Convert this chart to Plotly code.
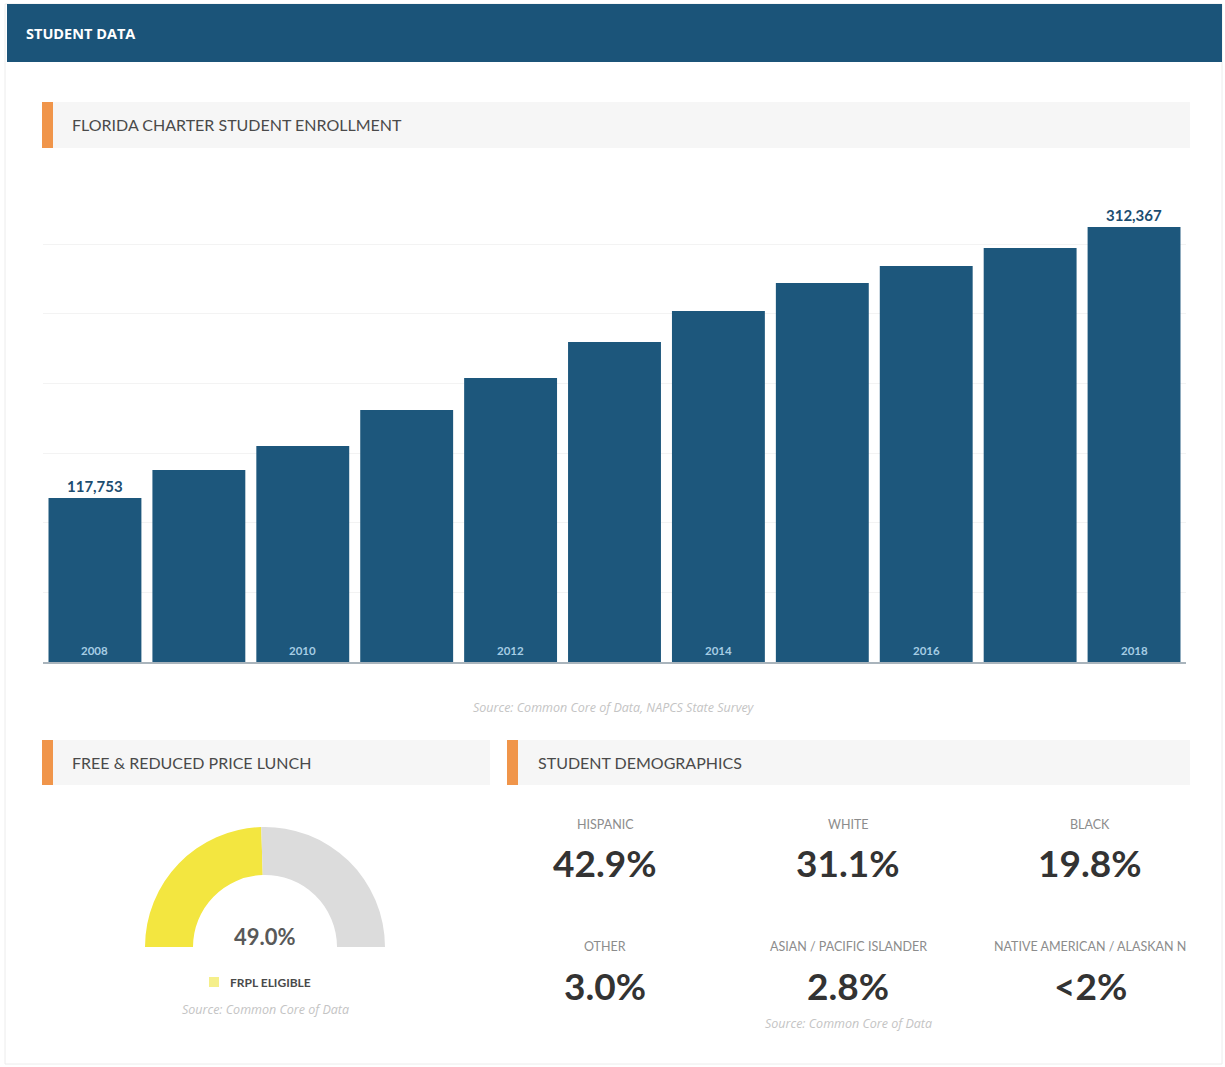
import plotly.graph_objects as go

W, H = 1225, 1067

# ---------------- data ----------------
years = [str(y) for y in range(2008, 2019)]
enrollment = [117753, 137900, 155100, 181000, 203900, 229800,
              252000, 272100, 284300, 297300, 312367]
year_tick_labels = ["2008", "2010", "2012", "2014", "2016", "2018"]
labelled_years = ["2008", "2018"]
grid_values = [50000, 100000, 150000, 200000, 250000, 300000]

frpl_eligible = 49.0
frpl_rest = 100 - frpl_eligible
frpl_label = "FRPL ELIGIBLE"

demo_groups = ["HISPANIC", "WHITE", "BLACK",
               "OTHER", "ASIAN / PACIFIC ISLANDER", "NATIVE AMERICAN / ALASKAN N"]
demo_values = ["42.9%", "31.1%", "19.8%", "3.0%", "2.8%", "<2%"]

# ---------------- styling ----------------
NAVY = "#1d577c"
HEADER = "#1b5479"
ORANGE = "#f0954a"
YELLOW = "#f3e640"
LIGHTGRAY = "#dcdcdc"
FONT = "Lato"


def px(x):
    return x / W


def py(y):
    return 1 - y / H


fig = go.Figure()

fig.add_trace(go.Bar(
    x=years, y=enrollment, marker=dict(color=NAVY, line=dict(width=0)),
    hoverinfo="x+y", showlegend=False, xaxis="x", yaxis="y",
))

fig.add_trace(go.Pie(
    values=[frpl_eligible, frpl_rest, 100],
    labels=["FRPL Eligible", "Not eligible", ""],
    marker=dict(colors=[YELLOW, LIGHTGRAY, "rgba(0,0,0,0)"], line=dict(width=0)),
    hole=0.6, sort=False, direction="clockwise", rotation=270,
    textinfo="none", hoverinfo="skip", showlegend=False,
    domain=dict(x=[px(145), px(385)], y=[0, 240 / H]),
))

shapes = []
# page border
shapes.append(dict(type="rect", xref="paper", yref="paper",
                   x0=px(5), x1=px(1222), y0=py(1064), y1=py(4),
                   line=dict(color="#ececec", width=1), fillcolor="rgba(0,0,0,0)"))
# header bar
shapes.append(dict(type="rect", xref="paper", yref="paper",
                   x0=px(7), x1=px(1222), y0=py(62), y1=py(4),
                   line=dict(width=0), fillcolor=HEADER))


def section(x_bar, x_end, y_top, y_bot):
    shapes.append(dict(type="rect", xref="paper", yref="paper",
                       x0=px(x_bar + 11), x1=px(x_end), y0=py(y_bot), y1=py(y_top),
                       line=dict(width=0), fillcolor="#f6f6f6"))
    shapes.append(dict(type="rect", xref="paper", yref="paper",
                       x0=px(x_bar), x1=px(x_bar + 11), y0=py(y_bot), y1=py(y_top),
                       line=dict(width=0), fillcolor=ORANGE))


section(42, 1190, 102, 148)
section(42, 490, 740, 785)
section(507, 1190, 740, 785)

# legend marker for gauge
shapes.append(dict(type="rect", xref="paper", yref="paper",
                   x0=px(209), x1=px(219), y0=py(987), y1=py(977),
                   line=dict(width=0), fillcolor="#f5ef8a"))

ann = []


def text(x, y, t, size, color, anchor="center", bold=False, italic=False, family=FONT):
    s = t
    if bold:
        s = "<b>" + s + "</b>"
    if italic:
        s = "<i>" + s + "</i>"
    ann.append(dict(xref="paper", yref="paper", x=px(x), y=py(y), text=s,
                    showarrow=False, xanchor=anchor, yanchor="middle",
                    font=dict(size=size, color=color, family=family)))


SRC_FONT = "Open Sans"
text(24, 34, "STUDENT DATA", 14.5, "white", anchor="left", bold=True, family="Open Sans")
text(70, 124, "FLORIDA CHARTER STUDENT ENROLLMENT", 16, "#4a4a4a", anchor="left")
text(70, 762, "FREE &amp; REDUCED PRICE LUNCH", 16, "#4a4a4a", anchor="left")
text(536, 762, "STUDENT DEMOGRAPHICS", 16, "#4a4a4a", anchor="left")

text(614, 707, "Source: Common Core of Data, NAPCS State Survey", 12.5, "#c4c4c4",
     italic=True, family=SRC_FONT)

# bar value labels and year labels, positioned by data (category index)
for i, (yr, val) in enumerate(zip(years, enrollment)):
    if yr in labelled_years:
        ann.append(dict(xref="x", yref="y", x=i, y=val, text="<b>%s</b>" % f"{val:,}",
                        showarrow=False, xanchor="center", yanchor="bottom", yshift=1,
                        font=dict(size=15, color="#1c4d70", family=FONT)))
    if yr in year_tick_labels:
        ann.append(dict(xref="x", yref="y", x=i, y=0, text="<b>%s</b>" % yr,
                        showarrow=False, xanchor="center", yanchor="bottom", yshift=3,
                        font=dict(size=11.5, color="#a6cde4", family=FONT)))

# gauge texts
text(265, 936, f"{frpl_eligible:.1f}%", 22, "#595959", bold=True)
text(228, 982, frpl_label, 12, "#4a4a4a", anchor="left", bold=True)
text(265, 1009, "Source: Common Core of Data", 12.5, "#c4c4c4", italic=True, family=SRC_FONT)

# demographics
col_x = [605, 848, 1090]
label_y = [824, 946]
value_y = [862, 985]
for i, (g, v) in enumerate(zip(demo_groups, demo_values)):
    c = col_x[i % 3]
    r = i // 3
    text(c, label_y[r], g, 12.5, "#8c8c8c")
    text(c, value_y[r], v, 37, "#333333", bold=True)
text(848, 1023, "Source: Common Core of Data", 12.5, "#c4c4c4", italic=True, family=SRC_FONT)

fig.update_layout(
    width=W, height=H, margin=dict(l=0, r=0, t=0, b=0),
    paper_bgcolor="white", plot_bgcolor="white",
    bargap=0.106,
    font=dict(family=FONT),
    xaxis=dict(domain=[px(43), px(1186)], type="category", range=[-0.5, len(years) - 0.5],
               showticklabels=False, showgrid=False, showline=True, linecolor="#a9b4bc",
               linewidth=1.5, ticks="", fixedrange=True),
    yaxis=dict(domain=[py(662), py(174.6)], range=[0, 350000], showticklabels=False,
               tickvals=grid_values, showgrid=True, gridcolor="#f3f3f3", gridwidth=1,
               zeroline=False, showline=False, ticks="", fixedrange=True),
    shapes=shapes, annotations=ann,
)

fig.write_html("out.html")
